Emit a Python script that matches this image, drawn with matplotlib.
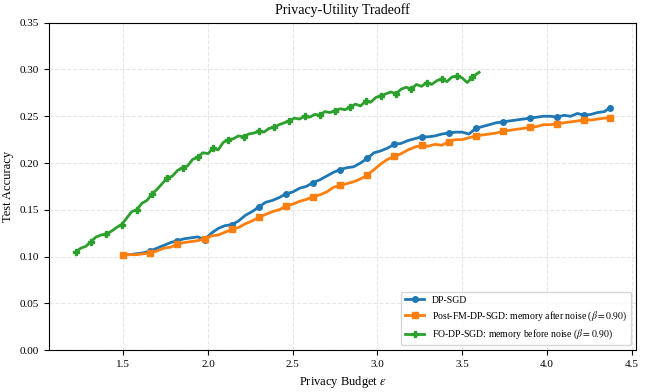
import matplotlib
matplotlib.use("Agg")
import matplotlib.pyplot as plt

plt.rcParams['font.family'] = ['Liberation Serif', 'DejaVu Serif']
plt.rcParams['mathtext.fontset'] = 'stix'

green_x = [1.22,1.25,1.28,1.31,1.34,1.37,1.40,1.43,1.46,1.49,1.52,1.55,1.58,1.61,1.64,1.67,1.70,1.73,1.76,1.79,
           1.82,1.85,1.88,1.91,1.94,1.97,2.00,2.03,2.06,2.09,2.12,2.15,2.18,2.21,2.24,2.27,2.30,2.33,2.36,2.39,
           2.42,2.45,2.48,2.51,2.54,2.57,2.60,2.63,2.66,2.69,2.72,2.75,2.78,2.81,2.84,2.87,2.90,2.93,2.96,2.99,
           3.02,3.05,3.08,3.11,3.14,3.17,3.20,3.23,3.26,3.29,3.32,3.35,3.38,3.41,3.44,3.47,3.50,3.53,3.56,3.60]
green_y = [0.105,0.109,0.111,0.116,0.121,0.123,0.124,0.127,0.131,0.134,0.141,0.148,0.150,0.157,0.160,0.167,0.172,0.178,0.184,0.186,
           0.192,0.195,0.197,0.204,0.206,0.211,0.210,0.216,0.214,0.222,0.225,0.226,0.229,0.228,0.231,0.232,0.234,0.233,0.237,0.238,
           0.241,0.243,0.245,0.248,0.247,0.250,0.249,0.252,0.251,0.255,0.254,0.256,0.258,0.257,0.260,0.263,0.261,0.266,0.265,0.270,
           0.272,0.274,0.276,0.274,0.279,0.281,0.279,0.284,0.282,0.286,0.284,0.288,0.290,0.287,0.292,0.293,0.291,0.286,0.292,0.297]

dp_x = [1.50,1.54,1.58,1.62,1.66,1.70,1.74,1.78,1.82,1.86,1.90,1.94,1.98,2.02,2.06,2.10,2.14,2.18,2.22,2.26,
        2.30,2.34,2.38,2.42,2.46,2.50,2.54,2.58,2.62,2.66,2.70,2.74,2.78,2.82,2.86,2.90,2.94,2.98,3.02,3.06,
        3.10,3.14,3.18,3.22,3.26,3.30,3.34,3.38,3.42,3.46,3.50,3.54,3.58,3.62,3.66,3.70,3.74,3.78,3.82,3.86,
        3.90,3.94,3.98,4.02,4.06,4.10,4.14,4.18,4.22,4.26,4.30,4.34,4.37]
dp_y = [0.102,0.102,0.103,0.104,0.106,0.109,0.112,0.115,0.117,0.119,0.120,0.121,0.118,0.125,0.130,0.133,0.134,0.138,0.144,0.148,
        0.153,0.158,0.160,0.163,0.167,0.169,0.173,0.175,0.179,0.182,0.186,0.190,0.193,0.195,0.196,0.200,0.205,0.211,0.213,0.216,
        0.220,0.221,0.224,0.226,0.228,0.228,0.229,0.231,0.232,0.233,0.233,0.231,0.237,0.239,0.241,0.243,0.244,0.245,0.246,0.247,
        0.248,0.249,0.250,0.250,0.249,0.251,0.250,0.253,0.251,0.252,0.254,0.255,0.259]

post_x = dp_x
post_y = [0.102,0.102,0.102,0.103,0.104,0.106,0.109,0.110,0.113,0.115,0.116,0.117,0.119,0.122,0.123,0.126,0.129,0.131,0.135,0.138,
          0.142,0.145,0.148,0.150,0.154,0.156,0.159,0.161,0.164,0.166,0.169,0.174,0.176,0.178,0.180,0.183,0.187,0.193,0.199,0.204,
          0.207,0.210,0.214,0.217,0.219,0.218,0.220,0.219,0.223,0.225,0.225,0.227,0.229,0.230,0.231,0.232,0.234,0.235,0.236,0.237,
          0.238,0.239,0.241,0.241,0.242,0.243,0.244,0.245,0.246,0.246,0.247,0.248,0.248]

labels = ['DP-SGD',
          r'Post-FM-DP-SGD: memory after noise ($\beta = 0.90$)',
          r'FO-DP-SGD: memory before noise ($\beta = 0.90$)']

fig, ax = plt.subplots(figsize=(6.46, 3.92), dpi=100)
ax.plot(dp_x, dp_y, color='#1f77b4', lw=2, marker='o', ms=4, markevery=4, label=labels[0])
ax.plot(post_x, post_y, color='#ff7f0e', lw=2, marker='s', ms=4, markevery=4, label=labels[1])
ax.plot(green_x, green_y, color='#2ca02c', lw=2, marker='P', ms=4, markevery=3, label=labels[2])

ax.set_ylim(0, 0.35)
ax.set_title('Privacy-Utility Tradeoff', fontsize=10)
ax.set_xlabel(r'Privacy Budget $\varepsilon$', fontsize=9)
ax.set_ylabel('Test Accuracy', fontsize=9)
ax.tick_params(labelsize=8)
ax.grid(True, linestyle='--', alpha=0.3)
ax.legend(loc='lower right', fontsize=7)

fig.subplots_adjust(left=0.076, right=0.985, top=0.942, bottom=0.107)
fig.savefig('out.png', dpi=100)
